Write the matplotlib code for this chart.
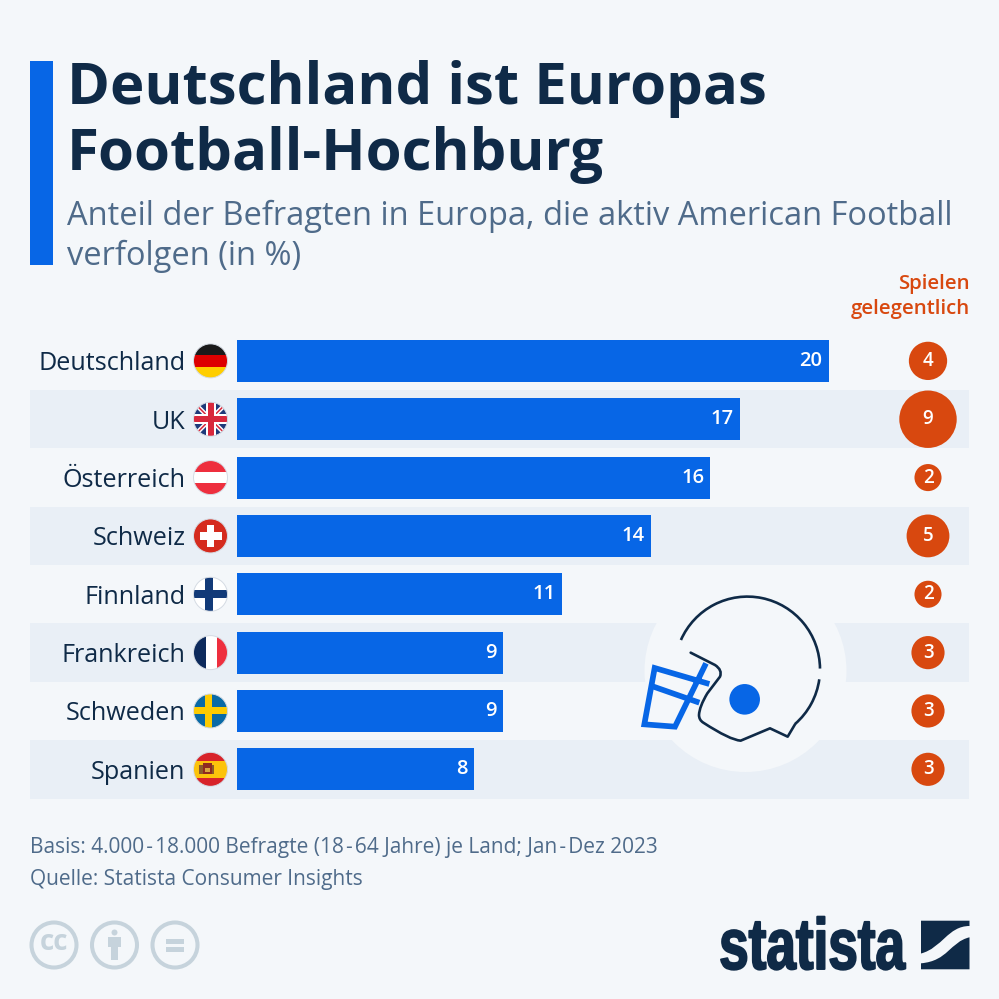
import matplotlib
matplotlib.use("Agg")
import matplotlib.pyplot as plt
import matplotlib.patches as mpatches
import matplotlib.patheffects as pe
from matplotlib.path import Path
from matplotlib.transforms import Affine2D

plt.rcParams.update({
    "font.family": ["Open Sans", "DejaVu Sans"],
})

countries = ["Deutschland", "UK", "Österreich", "Schweiz", "Finnland",
             "Frankreich", "Schweden", "Spanien"]
follow = [20, 17, 16, 14, 11, 9, 9, 8]
play = [4, 9, 2, 5, 2, 3, 3, 3]

C_BG = "#f4f7fa"
C_BAND = "#e9eff6"
C_BLUE = "#0766e6"
C_DARK = "#0f2a47"
C_SUB = "#4f6b8a"
C_ORANGE = "#d8480f"
C_ICON = "#c6d3dc"

PX_PER_UNIT = 29.58
ROW = 58.35
TOP = 331.7

fig = plt.figure(figsize=(9.99, 9.99), dpi=100, facecolor=C_BG)

# Fläche in Pixelkoordinaten für Deko, Logo, Texte
bg = fig.add_axes([0, 0, 1, 1])
bg.set_xlim(0, 999)
bg.set_ylim(999, 0)
bg.axis("off")


class Squeeze(pe.AbstractPathEffect):
    """Staucht Text horizontal um x0 und macht ihn etwas fetter (Logo)."""

    def __init__(self, sx, x0, stroke, color):
        super().__init__()
        self.sx, self.x0, self.stroke, self.color = sx, x0, stroke, color

    def draw_path(self, renderer, gc, tpath, affine, rgbFace=None):
        aff = affine + Affine2D().translate(-self.x0, 0).scale(self.sx, 1).translate(self.x0, 0)
        gc0 = renderer.new_gc()
        gc0.copy_properties(gc)
        gc0.set_linewidth(self.stroke)
        gc0.set_foreground(self.color)
        renderer.draw_path(gc0, tpath, aff, rgbFace)
        gc0.restore()


def clipped_rect(x, y, w, h, color, clip, z=3):
    p = mpatches.Rectangle((x, y), w, h, color=color, lw=0, zorder=z)
    bg.add_patch(p)
    p.set_clip_path(clip)


def draw_flag(name, cx, cy):
    r = 17
    clip = mpatches.Circle((cx, cy), r, transform=bg.transData)
    x, y = cx - r, cy - r
    d = 2 * r
    if name == "Deutschland":
        clipped_rect(x, y, d, d / 3, "#1a1a1a", clip)
        clipped_rect(x, y + d / 3, d, d / 3, "#dd0000", clip)
        clipped_rect(x, y + 2 * d / 3, d, d / 3, "#ffce00", clip)
    elif name == "UK":
        clipped_rect(x, y, d, d, "#1f3a7a", clip)
        for a, b in [((x, y), (x + d, y + d)), ((x, y + d), (x + d, y))]:
            ln, = bg.plot([a[0], b[0]], [a[1], b[1]], color="white", lw=3.2, zorder=3.1)
            ln.set_clip_path(clip)
            ln, = bg.plot([a[0], b[0]], [a[1], b[1]], color="#d8283c", lw=1.1, zorder=3.2)
            ln.set_clip_path(clip)
        clipped_rect(cx - 5, y, 10, d, "white", clip, 3.3)
        clipped_rect(x, cy - 5, d, 10, "white", clip, 3.3)
        clipped_rect(cx - 3, y, 6, d, "#d8283c", clip, 3.4)
        clipped_rect(x, cy - 3, d, 6, "#d8283c", clip, 3.4)
    elif name == "Österreich":
        clipped_rect(x, y, d, d, "white", clip)
        clipped_rect(x, y, d, d / 3, "#ee2f3e", clip)
        clipped_rect(x, y + 2 * d / 3, d, d / 3, "#ee2f3e", clip)
    elif name == "Schweiz":
        clipped_rect(x, y, d, d, "#d52b1e", clip)
        clipped_rect(cx - 3.7, cy - 11, 7.4, 22, "white", clip, 3.2)
        clipped_rect(cx - 11, cy - 3.7, 22, 7.4, "white", clip, 3.2)
    elif name == "Finnland":
        clipped_rect(x, y, d, d, "white", clip)
        clipped_rect(cx - 6, y, 8.5, d, "#123a78", clip, 3.2)
        clipped_rect(x, cy - 4.2, d, 8.4, "#123a78", clip, 3.2)
    elif name == "Frankreich":
        clipped_rect(x, y, d / 3 + 1, d, "#0d2a5c", clip)
        clipped_rect(x + d / 3 + 1, y, d / 3, d, "white", clip)
        clipped_rect(x + 2 * d / 3 + 1, y, d / 3, d, "#ee2f3e", clip)
    elif name == "Schweden":
        clipped_rect(x, y, d, d, "#0a6aa6", clip)
        clipped_rect(cx - 6, y, 7, d, "#fecb00", clip, 3.2)
        clipped_rect(x, cy - 3.5, d, 7, "#fecb00", clip, 3.2)
    elif name == "Spanien":
        clipped_rect(x, y, d, d, "#d8232a", clip)
        clipped_rect(x, y + d / 4, d, d / 2, "#fcc30b", clip)
        # Wappen, grob
        clipped_rect(cx - 12, cy - 4, 4, 9, "#8a5a2b", clip, 3.3)
        clipped_rect(cx - 8, cy - 6, 9, 11, "#8f2a1f", clip, 3.3)
        clipped_rect(cx + 1, cy - 4, 2.5, 9, "#8a5a2b", clip, 3.4)
        clipped_rect(cx - 6, cy - 1, 5, 4, "#d9a441", clip, 3.5)
    # dünner grauer Rand
    bg.add_patch(mpatches.Circle((cx, cy), r, fill=False, ec="#d5dbe3", lw=0.7, zorder=3.6))


# Titelbalken und Zeilenstreifen
bg.add_patch(mpatches.Rectangle((30, 61), 23, 204, color=C_BLUE, lw=0))
for i in range(len(countries)):
    if i % 2 == 1:
        bg.add_patch(mpatches.Rectangle((30, TOP + i * ROW), 939, ROW, color=C_BAND, lw=0))

# Texte oben
bg.text(67, 104, "Deutschland ist Europas", fontsize=41.9, fontweight="bold",
        color=C_DARK, va="baseline", ha="left")
bg.text(67, 170, "Football-Hochburg", fontsize=41.9, fontweight="bold",
        color=C_DARK, va="baseline", ha="left")
bg.text(67, 216, "Anteil der Befragten in Europa, die aktiv American Football",
        fontsize=23.5, color=C_SUB, va="center", ha="left")
bg.text(67, 256, "verfolgen (in %)", fontsize=23.5, color=C_SUB, va="center", ha="left")
bg.text(970, 284, "Spielen", fontsize=14.7, color=C_ORANGE, va="center", ha="right", fontweight="semibold")
bg.text(970, 309, "gelegentlich", fontsize=14.7, color=C_ORANGE, va="center", ha="right", fontweight="semibold")

# Helm
bg.add_patch(mpatches.Circle((745.5, 671), 101, color=C_BG, lw=0, zorder=1))
bg.add_patch(mpatches.Arc((747.4, 669.2), 145.2, 145.2, theta1=-156.3, theta2=-0.5,
                          color=C_DARK, lw=1.9, zorder=2))
bg.add_patch(mpatches.Arc((747.4, 669.2), 145.2, 145.2, theta1=8, theta2=49,
                          color=C_DARK, lw=1.9, zorder=2))
Z = lambda zx, zy: (620 + zx / 3, 580 + zy / 3)
shell_v = [(525, 433), (503, 470), (450, 445), (362, 482), (330, 480), (250, 428),
           (237, 420), (237, 405), (238, 380), (262, 340), (300, 290), (308, 270), (285, 255), (212, 218)]
shell_c = [Path.MOVETO, Path.LINETO, Path.LINETO, Path.LINETO, Path.CURVE3, Path.CURVE3,
           Path.CURVE3, Path.CURVE3, Path.CURVE3, Path.CURVE3, Path.LINETO, Path.CURVE3, Path.CURVE3, Path.LINETO]
bg.add_patch(mpatches.PathPatch(Path([Z(*p) for p in shell_v], shell_c), fill=False, ec=C_DARK, lw=1.9,
                                joinstyle="round", capstyle="round", zorder=2))
bg.add_patch(mpatches.Circle(Z(374, 358), 15.3, color=C_BLUE, lw=0, zorder=2))
mask = [[(268, 312), (104, 264), (73, 433), (165, 440), (258, 250)],
        [(95, 318), (238, 368)]]
for seg in mask:
    pts = [Z(*p) for p in seg]
    bg.plot([p[0] for p in pts], [p[1] for p in pts], color=C_BLUE, lw=4.1,
            solid_joinstyle="miter", solid_capstyle="butt", zorder=2)

# Balken + Blasen über den Daten-Achsen
ax = fig.add_axes([237 / 999, (999 - (TOP + 8 * ROW)) / 999, (969 - 237) / 999, 8 * ROW / 999])
ax.patch.set_alpha(0)
ax.set_xlim(0, (969 - 237) / PX_PER_UNIT)
ax.set_ylim(len(countries) - 0.5, -0.5)
for s in ax.spines.values():
    s.set_visible(False)
ax.set_xticks([])
ax.set_yticks(range(len(countries)))
ax.set_yticklabels(countries, fontsize=18.1, color=C_DARK)
ax.tick_params(axis="y", length=0, pad=37)

y = list(range(len(countries)))
ax.barh(y, follow, height=0.72, color=C_BLUE, zorder=3)
for yi, v in zip(y, follow):
    ax.annotate(f"{v}", xy=(v, yi), xytext=(-4.5, 0), textcoords="offset points",
                ha="right", va="center", fontsize=14.5, color="white", fontweight="semibold", zorder=4)

bubble_x = (928 - 237) / (969 - 237)
ax.scatter([bubble_x] * len(play), y, s=[190 * v for v in play], color=C_ORANGE, lw=0,
           transform=ax.get_yaxis_transform(), zorder=3, clip_on=False)
for yi, v in zip(y, play):
    ax.text(bubble_x, yi, f"{v}", transform=ax.get_yaxis_transform(), ha="center", va="center",
            fontsize=13.5, color="white", fontweight="semibold", zorder=4)

# Flaggen
for i, name in enumerate(countries):
    draw_flag(name, 210.5, TOP + (i + 0.5) * ROW)

# Fußnoten
bg.text(30, 848, "Basis: 4.000\u200a-\u200a18.000 Befragte (18\u200a-\u200a64 Jahre) je Land; Jan\u200a-\u200aDez 2023",
        fontsize=15, color=C_SUB, va="center", ha="left")
bg.text(30, 880, "Quelle: Statista Consumer Insights", fontsize=15, color=C_SUB, va="center", ha="left")

# CC-Icons
for cx in (54, 114.5, 175):
    bg.add_patch(mpatches.Circle((cx, 945), 22.5, fill=False, ec=C_ICON, lw=2.9))
bg.text(54, 943, "cc", fontsize=20, fontweight="bold", color=C_ICON, ha="center", va="center")
bg.add_patch(mpatches.Circle((114.5, 932.5), 3, color=C_ICON, lw=0))
bg.add_patch(mpatches.Polygon([(108, 937), (121, 937), (121, 947), (118, 947), (118, 960),
                               (111, 960), (111, 947), (108, 947)], color=C_ICON, lw=0))
bg.add_patch(mpatches.Rectangle((166, 939), 18, 5, color=C_ICON, lw=0))
bg.add_patch(mpatches.Rectangle((166, 946.7), 18, 5, color=C_ICON, lw=0))

# Logo
bg.text(905, 969, "statista", fontsize=52, fontweight="bold", color=C_DARK,
        family=["Liberation Sans"], ha="right", va="baseline",
        path_effects=[Squeeze(0.735, 905, 1.4, C_DARK)])
top_piece = Path([(921, 920.7), (969.5, 920.7), (969.5, 926), (948, 926), (942, 948), (921, 953.5), (921, 920.7)],
                 [Path.MOVETO, Path.LINETO, Path.LINETO, Path.CURVE4, Path.CURVE4, Path.CURVE4, Path.CLOSEPOLY])
low_piece = Path([(969.5, 937.3), (950, 942), (948, 961), (921, 963.3), (921, 969.3), (969.5, 969.3), (969.5, 937.3)],
                 [Path.MOVETO, Path.CURVE4, Path.CURVE4, Path.CURVE4, Path.LINETO, Path.LINETO, Path.CLOSEPOLY])
bg.add_patch(mpatches.PathPatch(top_piece, fc=C_DARK, lw=0))
bg.add_patch(mpatches.PathPatch(low_piece, fc=C_DARK, lw=0))

fig.savefig("out.png", dpi=100, facecolor=C_BG)
